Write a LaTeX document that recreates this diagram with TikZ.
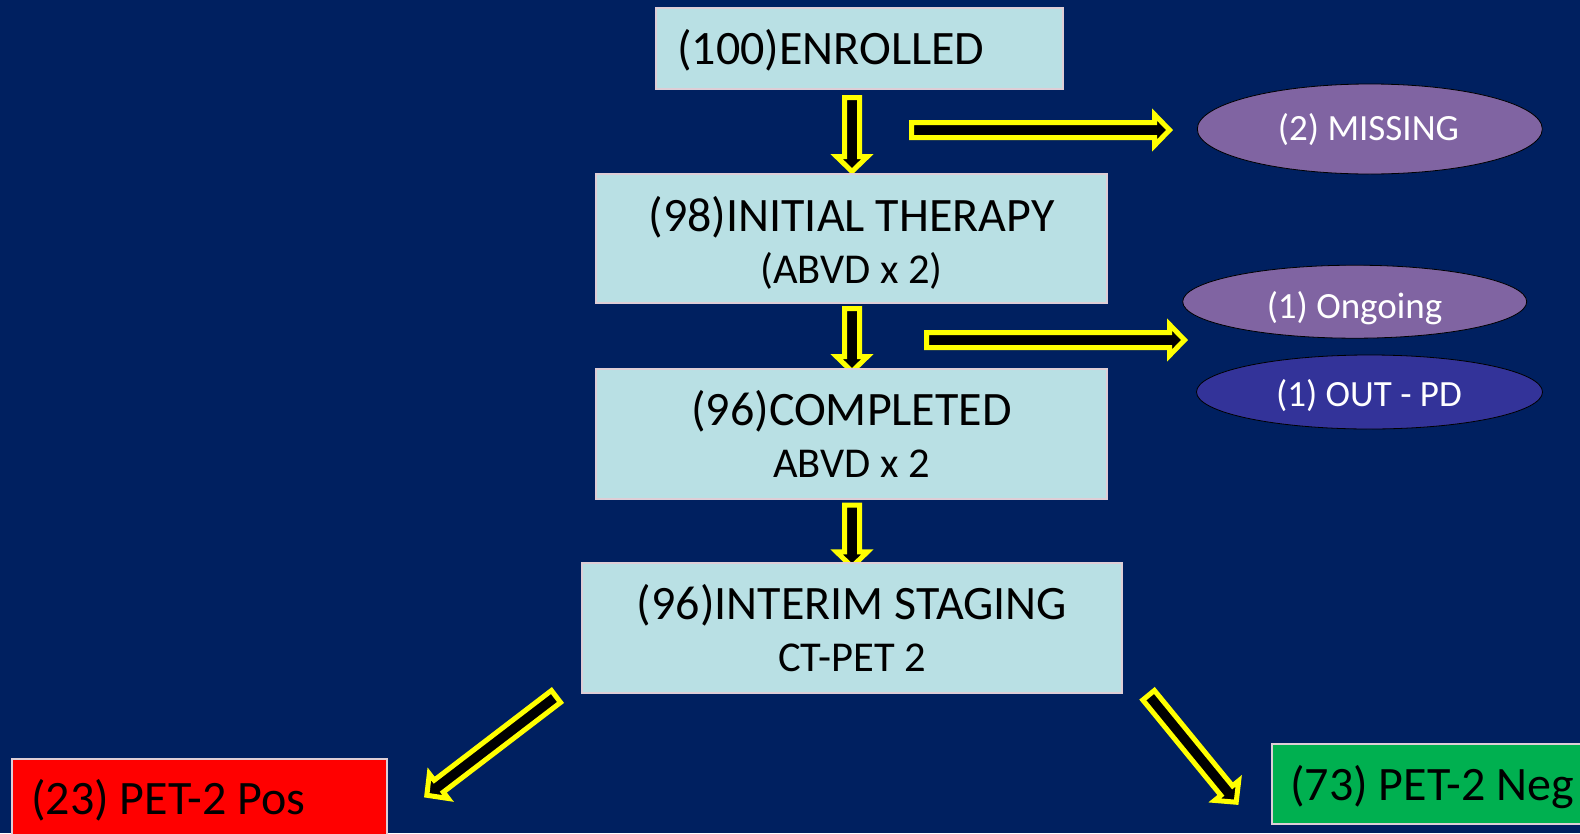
\documentclass[tikz,border=0pt]{standalone}
\usepackage{fontspec}
\setmainfont{Carlito}
\usetikzlibrary{shapes.geometric}
\definecolor{bgnavy}{RGB}{0,32,96}
\definecolor{boxfill}{RGB}{185,224,228}
\definecolor{boxline}{RGB}{222,206,214}
\definecolor{arrowyellow}{RGB}{255,255,0}
\definecolor{ovalpurple}{RGB}{128,100,162}
\definecolor{ovalblue}{RGB}{51,51,153}
\definecolor{posred}{RGB}{255,0,0}
\definecolor{neggreen}{RGB}{0,176,80}
\tikzset{
  flowbox/.style={rectangle, draw=boxline, line width=1.5pt, fill=boxfill, inner sep=0pt},
  oval/.style={ellipse, draw=black, line width=0.8pt, inner sep=0pt},
  fatarrow/.style={fill=black, draw=arrowyellow, line width=5pt, line join=miter, miter limit=10},
  bigtext/.style={inner sep=0pt, anchor=base, text=black, font=\fontsize{48}{56}\selectfont},
  subtext/.style={inner sep=0pt, anchor=base, text=black, font=\fontsize{42.5}{50}\selectfont},
  ovaltext/.style={inner sep=0pt, anchor=base, text=white, font=\fontsize{37}{44}\selectfont}
}
% name, tail point, angle, length
\newcommand\fatarr[4]{%
  \begin{scope}[shift={#2}, rotate=#3]
    \coordinate (#1-tail) at (0,0);
    \coordinate (#1-tip) at (#4,0);
    \draw[fatarrow] (0,-7.5) -- ({#4-15},-7.5) -- ({#4-15},-15.5) -- (#4,0)
      -- ({#4-15},15.5) -- ({#4-15},7.5) -- (0,7.5) -- cycle;
  \end{scope}}
\begin{document}
\begin{tikzpicture}[x=1pt, y=-1pt]
\useasboundingbox (0,0) rectangle (1580,833);
\clip (0,0) rectangle (1580,833);
\fill[bgnavy] (0,0) rectangle (1580,833);

% arrows (drawn below the boxes)
\fatarr{a1}{(852,97.5)}{-90}{74}
\fatarr{a2}{(852,308.5)}{-90}{63}
\fatarr{a3}{(852,505.2)}{-90}{61.6}
\fatarr{h1}{(911.5,130)}{0}{258}
\fatarr{h2}{(926.5,340)}{0}{258}
\fatarr{dl}{(556,696.5)}{-142.6}{162.6}
\fatarr{dr}{(1148.6,695.2)}{-50.7}{138.3}

% boxes
\node[flowbox, minimum width=407pt, minimum height=81pt] (enrolled) at (859.5,48.5) {};
\node[bigtext, anchor=base west] (enrolledT) at (677,64) {(100)ENROLLED};

\node[flowbox, minimum width=511pt, minimum height=129pt] (therapy) at (851.5,238.5) {};
\node[bigtext] (therapyT) at (851.5,231) {(98)INITIAL THERAPY};
\node[subtext] (therapyS) at (851.5,283) {(ABVD x 2)};

\node[flowbox, minimum width=511pt, minimum height=130pt] (completed) at (851.5,434) {};
\node[bigtext] (completedT) at (851.5,425) {(96)COMPLETED};
\node[subtext] (completedS) at (851.5,477) {ABVD x 2};

\node[flowbox, minimum width=540pt, minimum height=130pt] (interim) at (852,628) {};
\node[bigtext] (interimT) at (852,619) {(96)INTERIM STAGING};
\node[subtext] (interimS) at (852,671) {CT-PET 2};

\node[rectangle, draw=boxline, line width=1.5pt, fill=posred, minimum width=375pt, minimum height=100pt, inner sep=0pt] (pos) at (199.5,809) {};
\node[bigtext, anchor=base west] (posT) at (31,814) {(23) PET-2 Pos};

\node[rectangle, draw=boxline, line width=1.5pt, fill=neggreen, minimum width=340pt, minimum height=80pt, inner sep=0pt] (neg) at (1442,784) {};
\node[bigtext, anchor=base west] (negT) at (1290,800) {(73) PET-2 Neg};

% ovals
\node[oval, fill=ovalpurple, minimum width=345pt, minimum height=90pt] (missing) at (1369.8,129) {};
\node[ovaltext] (missingT) at (1368.5,140) {(2) MISSING};

\node[oval, fill=ovalpurple, minimum width=344pt, minimum height=73pt] (ongoing) at (1354.7,301.7) {};
\node[ovaltext] (ongoingT) at (1354.5,318) {(1) Ongoing};

\node[oval, fill=ovalblue, minimum width=346pt, minimum height=74pt] (outpd) at (1369.5,392) {};
\node[ovaltext] (outpdT) at (1369,406.5) {(1) OUT - PD};
\end{tikzpicture}
\end{document}
